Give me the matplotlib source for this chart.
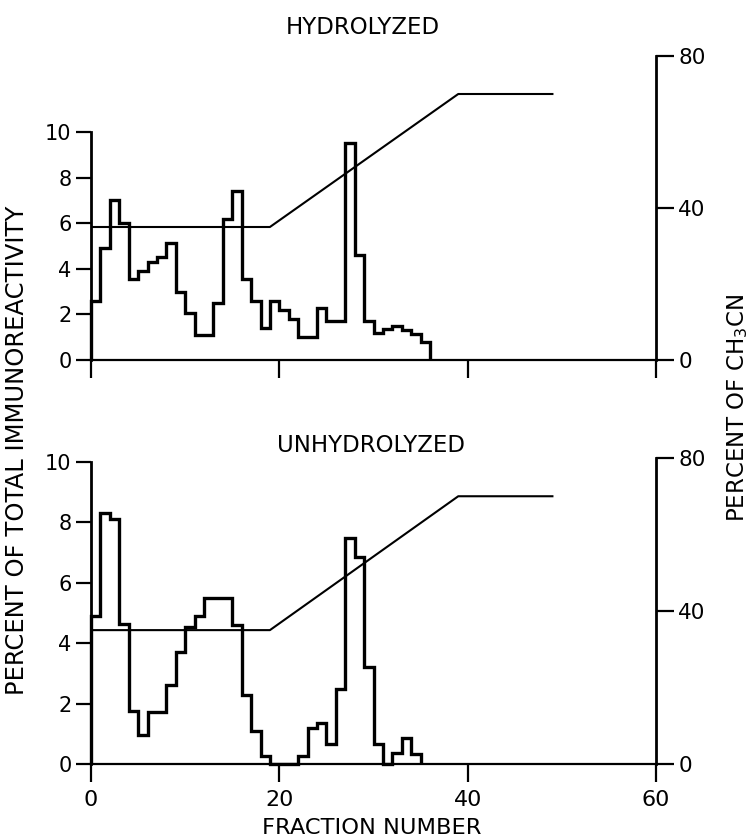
import numpy as np
import matplotlib
matplotlib.use('Agg')
import matplotlib.pyplot as plt

# percent of total immunoreactivity per fraction (fractions 0..)
hydrolyzed = [2.6, 4.9, 7.0, 6.0, 3.55, 3.9, 4.3, 4.5, 5.15, 3.0,
              2.05, 1.1, 1.1, 2.5, 6.2, 7.4, 3.55, 2.6, 1.4, 2.6,
              2.2, 1.8, 1.0, 1.0, 2.3, 1.7, 1.7, 9.5, 4.6, 1.7,
              1.2, 1.35, 1.5, 1.3, 1.15, 0.8]
unhydrolyzed = [4.9, 8.3, 8.1, 4.65, 1.77, 0.95, 1.72, 1.72, 2.6, 3.7,
                4.55, 4.9, 5.5, 5.5, 5.5, 4.6, 2.3, 1.1, 0.28, 0.0,
                0.0, 0.0, 0.28, 1.2, 1.35, 0.66, 2.5, 7.5, 6.85, 3.2,
                0.66, 0.0, 0.38, 0.86, 0.33]

# acetonitrile gradient
grad_x = [0, 19, 39, 49]
grad_y = [35, 35, 70, 70]

left_ticks = [0, 2, 4, 6, 8, 10]
right_ticks = [0, 40, 80]
x_ticks = [0, 20, 40, 60]

W, H = 753, 838
fig = plt.figure(figsize=(W / 100, H / 100), dpi=100)
plt.rcParams['font.family'] = 'DejaVu Sans'

def px_rect(x0, x1, ytop, ybot):
    return [x0 / W, 1 - ybot / H, (x1 - x0) / W, (ybot - ytop) / H]

panels = [
    (hydrolyzed, px_rect(91, 656, 56, 360), 10 * 304 / 228, False),
    (unhydrolyzed, px_rect(91, 656, 458, 764), 10 * 306 / 302, True),
]

for vals, rect, ytop, show_x in panels:
    ax = fig.add_axes(rect)
    ax.patch.set_alpha(0)
    ax.stairs(vals, np.arange(len(vals) + 1), baseline=0, color='black',
              lw=2.4, clip_on=False)
    ax.set_xlim(0, 60)
    ax.set_ylim(0, ytop)
    for s in ['top', 'right']:
        ax.spines[s].set_visible(False)
    ax.spines['left'].set_bounds(0, 10)
    ax.spines['bottom'].set_bounds(0, 60)
    ax.spines['left'].set_linewidth(2)
    ax.spines['bottom'].set_linewidth(1.6)
    ax.set_yticks(left_ticks)
    ax.set_xticks(x_ticks)
    ax.tick_params(axis='y', direction='out', length=11, width=1.6,
                   labelsize=15, pad=3)
    ax.tick_params(axis='x', direction='out', length=13, width=1.6,
                   labelsize=16, pad=6, labelbottom=show_x)

    ax2 = ax.twinx()
    ax2.set_ylim(0, 80)
    ax2.plot(grad_x, grad_y, color='black', lw=1.5)
    for s in ['top', 'left', 'bottom']:
        ax2.spines[s].set_visible(False)
    ax2.spines['right'].set_bounds(0, 80)
    ax2.spines['right'].set_linewidth(2)
    ax2.set_yticks(right_ticks)
    ax2.tick_params(axis='y', direction='out', length=13, width=1.6,
                    labelsize=15.5, pad=3)

fig.text(363 / W, 1 - 28 / H, 'HYDROLYZED', ha='center', va='center', fontsize=16.5)
fig.text(371 / W, 1 - 445 / H, 'UNHYDROLYZED', ha='center', va='center', fontsize=16.5)
fig.text(372 / W, 1 - 828 / H, 'FRACTION NUMBER', ha='center', va='center', fontsize=16.2)
fig.text(17 / W, 1 - 450 / H, 'PERCENT OF TOTAL IMMUNOREACTIVITY', ha='center',
         va='center', rotation=90, fontsize=17.5)
fig.text(738 / W, 1 - 408 / H, 'PERCENT OF CH$_3$CN', ha='center',
         va='center', rotation=90, fontsize=16.5)

fig.savefig('out.png', dpi=100)
